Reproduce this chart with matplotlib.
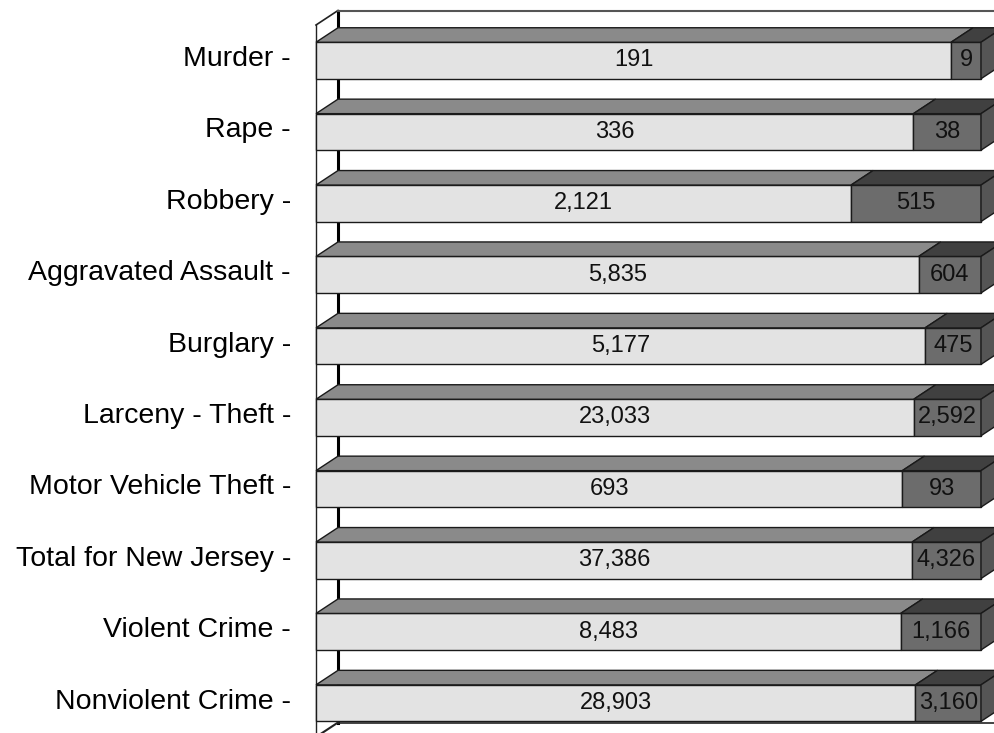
import matplotlib.pyplot as plt
from matplotlib.patches import Polygon

categories = ["Murder", "Rape", "Robbery", "Aggravated Assault", "Burglary",
              "Larceny - Theft", "Motor Vehicle Theft", "Total for New Jersey",
              "Violent Crime", "Nonviolent Crime"]
series_a = [191, 336, 2121, 5835, 5177, 23033, 693, 37386, 8483, 28903]
series_b = [9, 38, 515, 604, 475, 2592, 93, 4326, 1166, 3160]

plt.rcParams['font.family'] = ['Liberation Sans', 'DejaVu Sans']

W, H = 995, 733
fig = plt.figure(figsize=(W / 100, H / 100), dpi=100)
ax = fig.add_axes([0, 0, 1, 1])
ax.set_axis_off()

# pixel geometry -> data units (x: fraction of total, y: row index)
x0, xw = 316, 665
y0, ys = 60.5, 71.4
ax.set_xlim(-x0 / xw, (W - x0) / xw)
ax.set_ylim((H - y0) / ys, -y0 / ys)

dx = 22 / xw
dy = 14.5 / ys
h = 36.5 / ys

light_front = "#e3e3e3"
light_top = "#8a8a8a"
dark_front = "#6c6c6c"
dark_top = "#404040"
dark_side = "#555555"
edge = "#1a1a1a"

wall_top = (25 - y0) / ys
wall_bot = (737 - y0) / ys

# walls
ax.plot([0, 0], [wall_top, wall_bot + 1], color="#222222", lw=1, zorder=1)
ax.plot([dx, dx], [wall_top - dy, wall_bot - dy], color="black", lw=2.2, zorder=1)
ax.plot([0, dx], [wall_top, wall_top - dy], color="#222222", lw=1.2, zorder=1)
ax.plot([dx, 2], [wall_top - dy, wall_top - dy], color="#555555", lw=1.5, zorder=1)
ax.plot([0, dx], [wall_bot, wall_bot - dy], color="#222222", lw=1.5, zorder=1)
ax.plot([dx, 2], [wall_bot - dy, wall_bot - dy], color="#222222", lw=1.2, zorder=1)

for i, (cat, a, b) in enumerate(zip(categories, series_a, series_b)):
    tot = a + b
    f = a / tot
    top = i - h / 2
    bot = i + h / 2
    z = 2 + i
    # light segment
    ax.add_patch(Polygon([(0, top), (f, top), (f, bot), (0, bot)],
                         facecolor=light_front, edgecolor=edge, lw=1, zorder=z))
    ax.add_patch(Polygon([(0, top), (f, top), (f + dx, top - dy), (dx, top - dy)],
                         facecolor=light_top, edgecolor=edge, lw=1, zorder=z))
    # dark segment
    ax.add_patch(Polygon([(f, top), (1, top), (1, bot), (f, bot)],
                         facecolor=dark_front, edgecolor=edge, lw=1, zorder=z))
    ax.add_patch(Polygon([(f, top), (1, top), (1 + dx, top - dy), (f + dx, top - dy)],
                         facecolor=dark_top, edgecolor=edge, lw=1, zorder=z))
    ax.add_patch(Polygon([(1, top), (1, bot), (1 + dx, bot - dy), (1 + dx, top - dy)],
                         facecolor=dark_side, edgecolor=edge, lw=1, zorder=z))
    ax.text(f / 2, i, f"{a:,}", ha="center", va="center", fontsize=17,
            color="#111111", zorder=20)
    ax.text((f + 1) / 2, i, f"{b:,}", ha="center", va="center", fontsize=17,
            color="#111111", zorder=20)
    ax.text(-25 / xw, i - 0.02, cat + " -", ha="right", va="center", fontsize=20.5,
            color="black")

fig.savefig("out.png", dpi=100)
